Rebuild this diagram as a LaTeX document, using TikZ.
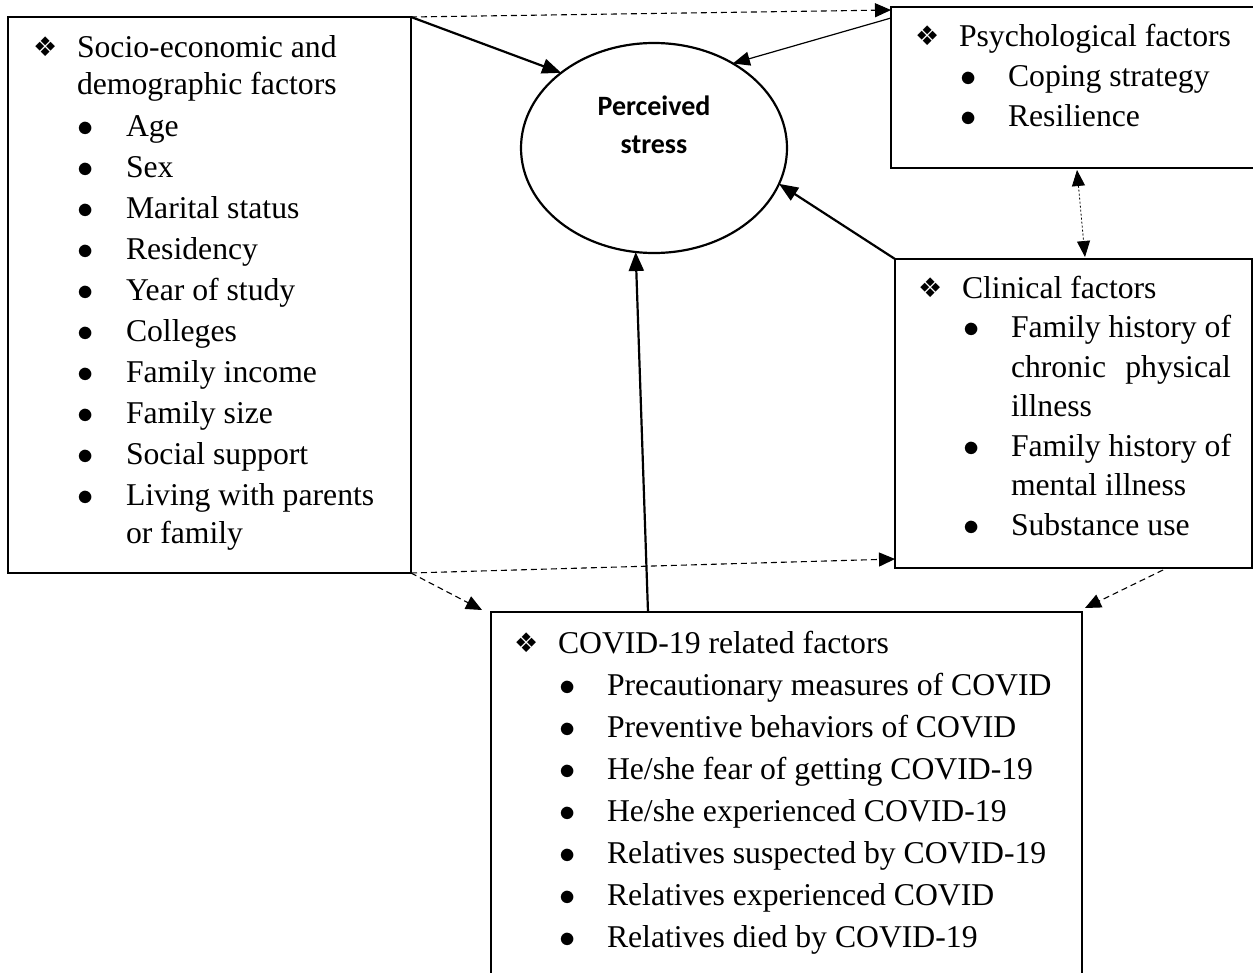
\documentclass[tikz,border=0pt]{standalone}
\usepackage{fontspec}
\usepackage{graphicx}
\setmainfont{Liberation Serif}
\newfontfamily\dejavu{DejaVu Sans}
\newfontfamily\carlito{Carlito}
\usetikzlibrary{arrows.meta,shapes.geometric,calc}
\newcommand\dia{\raisebox{1pt}{\dejavu\fontsize{27}{27}\selectfont ❖}}
\newcommand\hd[1]{\makebox[44pt][l]{\dia}#1}
\newcommand\hc[1]{\hspace*{44pt}#1}
\newcommand\bl[1]{\hspace*{45pt}\makebox[48pt][l]{\scalebox{1.3}{$\bullet$}}#1}
\newcommand\bc[1]{\hspace*{93pt}#1}
\tikzset{
  box/.style={draw, rectangle, line width=2.2pt, inner sep=0pt, outer sep=0pt, anchor=north west},
  txt/.style={inner sep=0pt, outer sep=0pt, anchor=base west},
  thickarrow/.style={line width=2.2pt, -{Triangle[length=19pt,width=15pt]}},
  thinarrow/.style={line width=1.2pt, -{Triangle[length=17pt,width=14pt]}},
  dasharrow/.style={line width=1.1pt, dash pattern=on 6pt off 4pt, -{Triangle[length=16pt,width=14pt]}},
  dotarrow/.style={line width=0.8pt, dash pattern=on 2pt off 2pt, {Triangle[length=16pt,width=13pt]}-{Triangle[length=16pt,width=13pt]}}
}
\begin{document}
\begin{tikzpicture}[x=1pt,y=-1pt]
\useasboundingbox (0,0) rectangle (1253,972);
% boxes
\node[box, minimum width=403pt, minimum height=556pt] (soc) at (8,17) {};
\node[box, minimum width=365pt, minimum height=161pt] (psych) at (891,7) {};
\node[box, minimum width=357pt, minimum height=309pt] (clin) at (895,259) {};
\node[box, minimum width=591pt, minimum height=373pt] (covid) at (491,612) {};
\node[ellipse, draw, line width=2.2pt, minimum width=266pt, minimum height=210pt, inner sep=0pt, outer sep=0pt] (stress) at (654,148) {};
% texts
\node[txt, anchor=base] (stressT) at (654,115) {\parbox[t]{220pt}{\centering\carlito\bfseries\fontsize{28}{38}\selectfont Perceived\\stress}};
\node[txt] (socT) at (33,57) {\parbox[t]{375pt}{\fontsize{31.7}{41}\selectfont
\hd{Socio-economic and}\\[-4pt]
\hc{demographic factors}\\[1pt]
\bl{Age}\\
\bl{Sex}\\
\bl{Marital status}\\
\bl{Residency}\\
\bl{Year of study}\\
\bl{Colleges}\\
\bl{Family income}\\
\bl{Family size}\\
\bl{Social support}\\
\bl{Living with parents}\\[-3pt]
\bc{or family}}};
\node[txt] (psychT) at (915,46) {\parbox[t]{330pt}{\fontsize{31.7}{40}\selectfont
\hd{Psychological factors}\\
\bl{Coping strategy}\\
\bl{Resilience}}};
\node[txt] (clinT) at (918,298) {\parbox[t]{330pt}{\fontsize{31.7}{39.5}\selectfont
\hd{Clinical factors}\\
\bl{Family history of}\\
\bc{\makebox[220pt][s]{chronic\hfill physical}}\\
\bc{illness}\\
\bl{Family history of}\\
\bc{mental illness}\\
\bl{Substance use}}};
\node[txt] (covidT) at (514,653) {\parbox[t]{560pt}{\fontsize{31.7}{42}\selectfont
\hd{COVID-19 related factors}\\
\bl{Precautionary measures of COVID}\\
\bl{Preventive behaviors of COVID}\\
\bl{He/she fear of getting COVID-19}\\
\bl{He/she experienced COVID-19}\\
\bl{Relatives suspected by COVID-19}\\
\bl{Relatives experienced COVID}\\
\bl{Relatives died by COVID-19}}};
% connectors
\draw[thickarrow] (soc.north east) -- (stress.141);
\draw[dasharrow] (soc.north east) -- ($(psych.north west)+(0,3)$);
\draw[thinarrow] ($(psych.north west)+(0,11)$) -- (stress.47);
\draw[thickarrow] (clin.north west) -- (stress.-16);
\draw[dotarrow] ($(psych.south west)+(186,2)$) -- ($(clin.north west)+(190,-2)$);
\draw[thickarrow] ($(covid.north west)+(157,0)$) -- (stress.-100);
\draw[dasharrow] (soc.south east) -- ($(clin.south west)+(0,-9)$);
\draw[dasharrow] (soc.south east) -- ($(covid.north west)+(-9,-2)$);
\draw[dasharrow] ($(clin.south west)+(268,2)$) -- ($(covid.north east)+(3,-4)$);
\end{tikzpicture}
\end{document}
